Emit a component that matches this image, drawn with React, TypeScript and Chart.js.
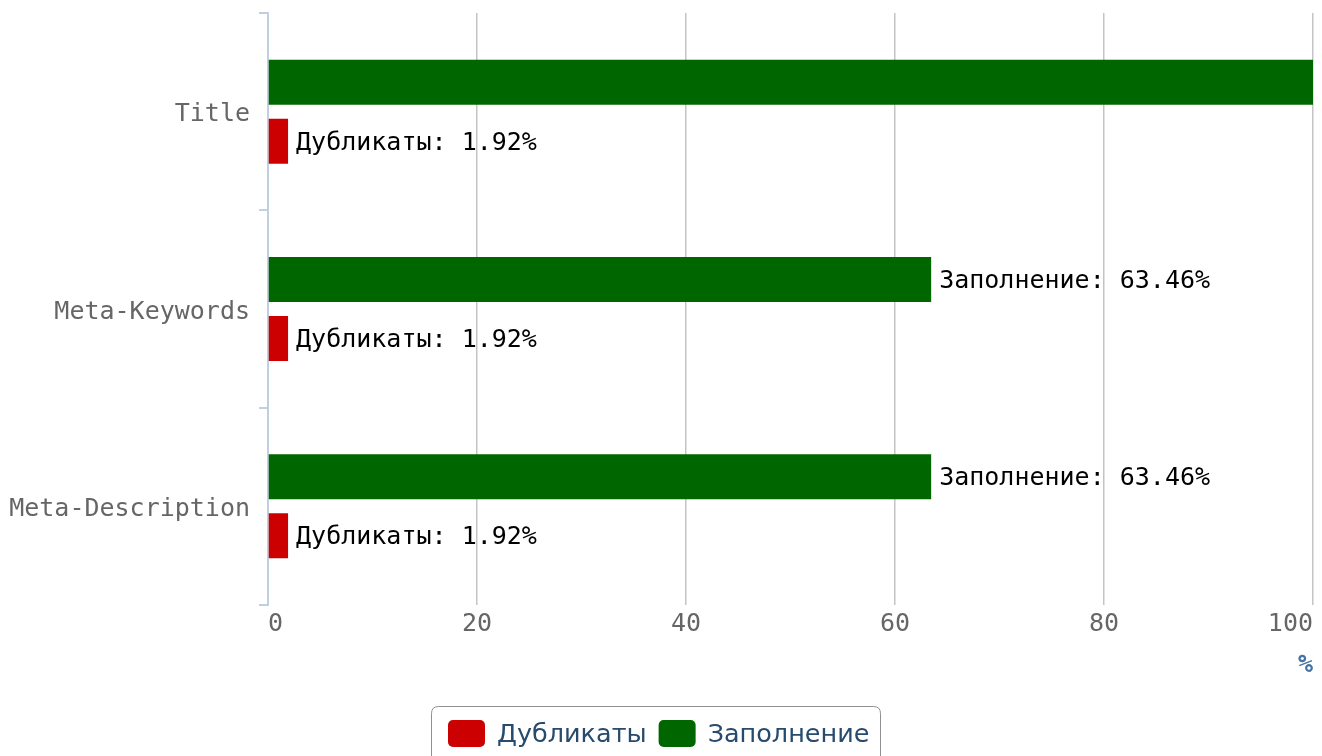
import React, { useEffect, useRef } from "react";
import { Chart, registerables } from "chart.js";

Chart.register(...registerables);

const categories = ["Title", "Meta-Keywords", "Meta-Description"];
const fillValues = [100, 63.46, 63.46];
const dupValues = [1.92, 1.92, 1.92];
const xTicks = [0, 20, 40, 60, 80, 100];
const seriesNames = { dup: "Дубликаты", fill: "Заполнение" };
const colors = { dup: "#CC0000", fill: "#006600" };

const MONO = "'DejaVu Sans Mono', monospace";

const dataLabelPlugin = {
  id: "dataLabels",
  afterDatasetsDraw(chart: any) {
    const ctx = chart.ctx;
    ctx.save();
    ctx.font = `25px ${MONO}`;
    ctx.fillStyle = "#000000";
    ctx.textBaseline = "middle";
    ctx.textAlign = "left";
    chart.data.datasets.forEach((ds: any, di: number) => {
      const meta = chart.getDatasetMeta(di);
      meta.data.forEach((bar: any, i: number) => {
        const text = `${ds.label}: ${ds.data[i]}%`;
        const x = bar.x + 8;
        const w = ctx.measureText(text).width;
        if (x + w > chart.width) return;
        ctx.fillText(text, x, bar.y + 2);
      });
    });
    ctx.restore();
  },
};

const legendPlugin = {
  id: "boxLegend",
  afterDraw(chart: any) {
    const ctx = chart.ctx;
    ctx.save();
    const bx = 431.5, by = 706.5, bw = 449, bh = 70, r = 7;
    ctx.beginPath();
    ctx.moveTo(bx + r, by);
    ctx.lineTo(bx + bw - r, by);
    ctx.quadraticCurveTo(bx + bw, by, bx + bw, by + r);
    ctx.lineTo(bx + bw, by + bh);
    ctx.lineTo(bx, by + bh);
    ctx.lineTo(bx, by + r);
    ctx.quadraticCurveTo(bx, by, bx + r, by);
    ctx.strokeStyle = "#909090";
    ctx.lineWidth = 1;
    ctx.stroke();

    const items = [
      { label: seriesNames.dup, color: colors.dup },
      { label: seriesNames.fill, color: colors.fill },
    ];
    ctx.font = `25.5px 'DejaVu Sans', sans-serif`;
    ctx.textBaseline = "middle";
    ctx.textAlign = "left";
    let x = 448;
    const cy = 735;
    items.forEach((it) => {
      ctx.fillStyle = it.color;
      ctx.beginPath();
      (ctx as any).roundRect(x, 720, 37, 27, 5);
      ctx.fill();
      ctx.fillStyle = "#274b6d";
      ctx.fillText(it.label, x + 49, cy);
      x += 49 + ctx.measureText(it.label).width + 12;
    });
    ctx.restore();
  },
};

export default function App() {
  const ref = useRef<HTMLCanvasElement | null>(null);
  useEffect(() => {
    if (!ref.current) return;
    const chart = new Chart(ref.current, {
      type: "bar",
      data: {
        labels: categories,
        datasets: [
          {
            label: seriesNames.fill,
            data: fillValues,
            backgroundColor: colors.fill,
            borderWidth: 0,
            categoryPercentage: 0.598,
            barPercentage: 0.763,
          },
          {
            label: seriesNames.dup,
            data: dupValues,
            backgroundColor: colors.dup,
            borderWidth: 0,
            categoryPercentage: 0.598,
            barPercentage: 0.763,
          },
        ],
      },
      options: {
        indexAxis: "y",
        animation: false,
        responsive: true,
        maintainAspectRatio: false,
        layout: { padding: { left: 0, right: 9, top: 13, bottom: 0 } },
        plugins: {
          legend: { display: false },
          tooltip: { enabled: false },
        },
        scales: {
          x: {
            type: "linear",
            min: 0,
            max: 100,
            afterBuildTicks: (scale: any) => {
              scale.ticks = xTicks.map((v) => ({ value: v }));
            },
            afterFit: (scale: any) => {
              scale.height = 151;
              scale.paddingLeft = 0;
              scale.paddingRight = 0;
            },
            border: { display: false },
            grid: {
              color: (c: any) => (c.index === 0 ? "rgba(0,0,0,0)" : "#C4C4C4"),
              lineWidth: 1.5,
              drawTicks: false,
            },
            ticks: {
              align: "inner",
              padding: 4,
              color: "#666666",
              font: { family: MONO, size: 25 },
              maxRotation: 0,
            },
            title: {
              display: true,
              text: "%",
              align: "end",
              color: "#4572A7",
              font: { family: MONO, size: 25, weight: "bold" },
              padding: { top: 0, bottom: 76 },
            },
          },
          y: {
            type: "category",
            afterFit: (scale: any) => {
              scale.width = 268;
              scale.paddingTop = 0;
              scale.paddingBottom = 0;
            },
            border: { display: true, color: "#C0D0E0", width: 2 },
            grid: {
              drawOnChartArea: false,
              drawTicks: true,
              tickLength: 9,
              lineWidth: 2,
              color: "#C0D0E0",
              offset: true,
            },
            ticks: {
              padding: 9,
              labelOffset: 3,
              color: "#666666",
              font: { family: MONO, size: 25 },
            },
          },
        },
      },
      plugins: [dataLabelPlugin, legendPlugin],
    } as any);
    return () => chart.destroy();
  }, []);
  return (
    <div style={{ position: "absolute", left: 0, top: 0, width: 1322, height: 756 }}>
      <canvas ref={ref} />
    </div>
  );
}
